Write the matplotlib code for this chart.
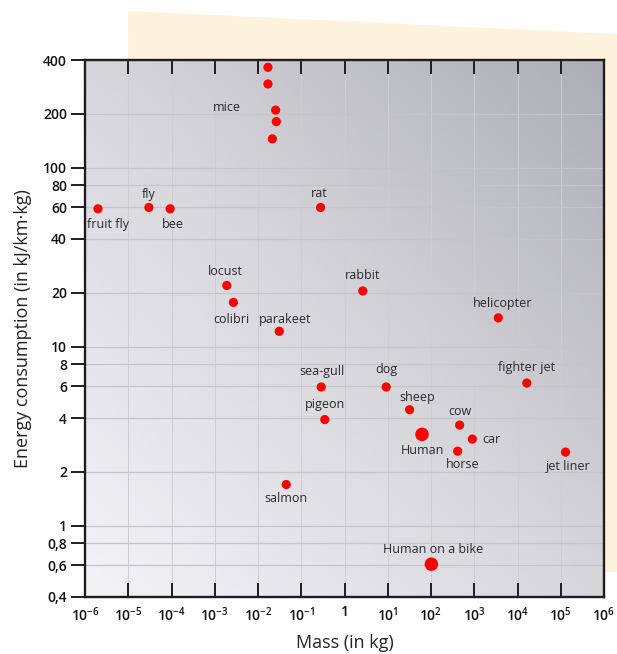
import numpy as np
import matplotlib
matplotlib.use("Agg")
import matplotlib.pyplot as plt
from matplotlib.colors import LinearSegmentedColormap
from matplotlib.patches import Polygon
from matplotlib.ticker import NullLocator

plt.rcParams["font.family"] = ["Open Sans", "DejaVu Sans"]
plt.rcParams["mathtext.fontset"] = "custom"
plt.rcParams["mathtext.rm"] = "Open Sans"
plt.rcParams["mathtext.default"] = "regular"

# Datos
animals = ["fruit fly", "fly", "bee", "mice", "", "", "", "", "rat", "locust",
           "colibri", "parakeet", "rabbit", "helicopter", "sea-gull", "dog",
           "fighter jet", "sheep", "pigeon", "cow", "Human", "car", "horse",
           "jet liner", "salmon", "Human on a bike"]
mass_kg = [2.0e-6, 3.0e-5, 9.3e-5, 0.0256, 0.017, 0.017, 0.0265, 0.0215, 0.28, 1.9e-3,
           2.7e-3, 0.031, 2.65, 3600, 0.29, 9.2,
           16400, 32, 0.35, 460, 62, 905, 414,
           129000, 0.045, 102]
energy = [59, 60, 59, 210, 364, 294, 181, 145, 60, 22,
          17.7, 12.2, 20.5, 14.5, 5.96, 5.96,
          6.27, 4.45, 3.92, 3.65, 3.24, 3.05, 2.61,
          2.58, 1.70, 0.61]
big_dots = ["Human", "Human on a bike"]

y_ticks = [0.4, 0.6, 0.8, 1, 2, 4, 6, 8, 10, 20, 40, 60, 80, 100, 200, 400]
y_tick_labels = ["0,4", "0,6", "0,8", "1", "2", "4", "6", "8", "10", "20", "40",
                 "60", "80", "100", "200", "400"]
x_exps = list(range(-6, 7))

# posicion de las etiquetas (en pixeles respecto al punto)
label_offsets = {
    "fruit fly": (10, -16), "fly": (0, 13), "bee": (3, -16), "mice": (-49, 3),
    "rat": (-1, 14), "locust": (-1, 14), "colibri": (-2, -17), "parakeet": (6, 12),
    "rabbit": (0, 15), "helicopter": (4, 14), "sea-gull": (1, 15), "dog": (0, 17),
    "fighter jet": (0, 16), "sheep": (8, 12), "pigeon": (0, 15), "cow": (0, 14),
    "Human": (0, -16), "car": (19, 0), "horse": (5, -13), "jet liner": (2, -14),
    "salmon": (0, -14), "Human on a bike": (2, 15),
}

W, H = 617, 654
fig = plt.figure(figsize=(W / 100, H / 100), dpi=100)

# fondo crema inclinado
cream = Polygon([(128 / W, 1 - 11 / H), (617 / W, 1 - 34 / H), (617 / W, 1 - 572 / H),
                 (130 / W, 1 - 590 / H)], closed=True, transform=fig.transFigure,
                facecolor="#fdf2dc", edgecolor="none", zorder=-1)
fig.patches.append(cream)

rect = [85 / W, 1 - 597 / H, (604 - 85) / W, (597 - 60) / H]

# degradado gris del area del grafico
bg = fig.add_axes(rect, zorder=0)
gx, gy = np.meshgrid(np.linspace(0, 1, 300), np.linspace(0, 1, 300))
grad = (gx + gy) / 2
cmap = LinearSegmentedColormap.from_list("bg", ["#f4f4f7", "#d6d6db", "#adadb5"])
bg.imshow(grad, cmap=cmap, origin="lower", extent=[0, 1, 0, 1], aspect="auto")
bg.axis("off")

ax = fig.add_axes(rect, zorder=1)
ax.set_facecolor("none")
ax.set_xscale("log")
ax.set_yscale("log")
ax.set_xlim(1e-6, 1e6)
ax.set_ylim(0.4, 400)

ax.set_xticks([10.0 ** e for e in x_exps])
ax.set_xticklabels(["1" if e == 0 else "$10^{%d}$" % e for e in x_exps])
ax.set_yticks(y_ticks)
ax.set_yticklabels(y_tick_labels)
ax.xaxis.set_minor_locator(NullLocator())
ax.yaxis.set_minor_locator(NullLocator())

ax.tick_params(axis="x", direction="in", top=True, bottom=True, length=10, width=1.4,
               color="#1e1e1e", labelsize=10, pad=6, labelcolor="#111111")
ax.tick_params(axis="y", direction="out", left=True, right=False, length=10, width=1.4,
               color="#1e1e1e", labelsize=10, pad=3, labelcolor="#111111")
for lab in ax.get_xticklabels() + ax.get_yticklabels():
    lab.set_fontweight(600)
for s in ax.spines.values():
    s.set_linewidth(1.7)
    s.set_color("#1e1e1e")

ax.grid(True, which="major", axis="y", color="#c4c4ca", linewidth=0.9)
ax.grid(True, which="major", axis="x", color="#cdcdd2", linewidth=0.7)
ax.set_axisbelow(True)

sizes = [95 if a in big_dots else 44 for a in animals]
ax.scatter(mass_kg, energy, s=sizes, color="#ff0000", edgecolors="none", zorder=3)

for a, m, e in zip(animals, mass_kg, energy):
    if not a:
        continue
    dx, dy = label_offsets[a]
    ax.annotate(a, (m, e), xytext=(dx, dy), textcoords="offset pixels",
                ha="center", va="center", fontsize=9, color="#2a2a2a", zorder=4)

ax.set_xlabel("Mass (in kg)", fontsize=13, color="#222222", labelpad=7)
ax.set_ylabel("Energy consumption (in kJ/km·kg)", fontsize=13, color="#222222", labelpad=8)

fig.savefig("out.png", dpi=100)
